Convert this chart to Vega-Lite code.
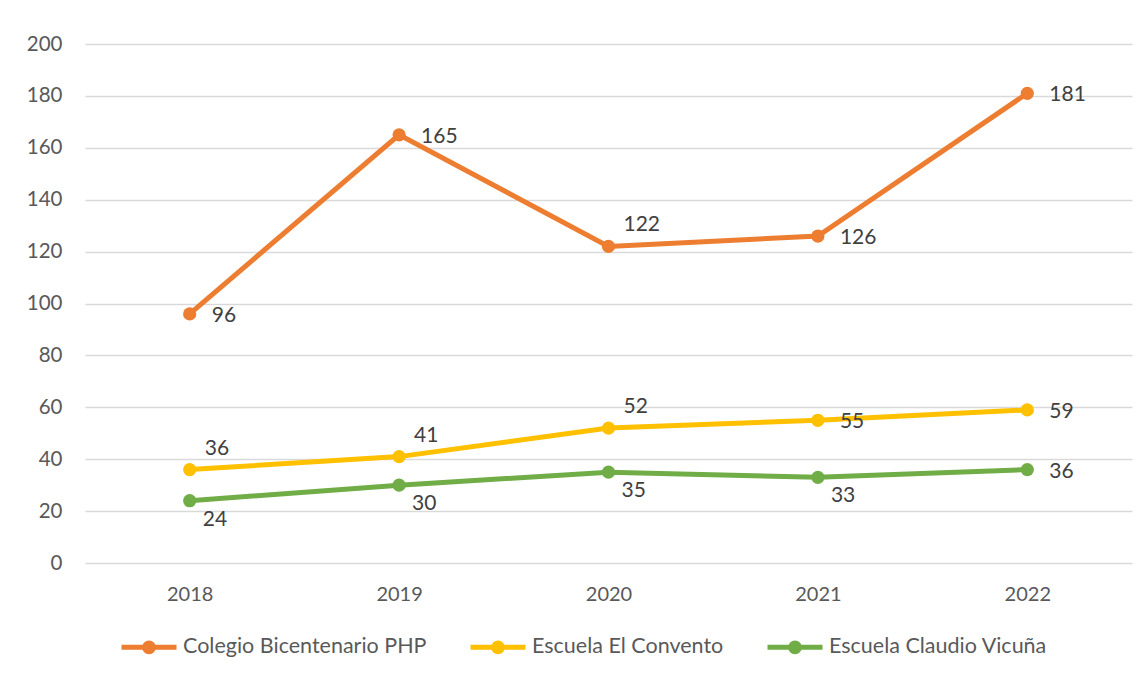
{
  "$schema": "https://vega.github.io/schema/vega-lite/v6.json",
  "width": 1047,
  "height": 519,
  "autosize": "none",
  "padding": {"left": 85, "top": 44, "right": 15, "bottom": 114},
  "background": "white",
  "config": {
    "view": {"stroke": null},
    "font": "Lato"
  },
  "data": {
    "values": [
      {"year": "2018", "school": "Colegio Bicentenario PHP", "value": 96},
      {"year": "2019", "school": "Colegio Bicentenario PHP", "value": 165},
      {"year": "2020", "school": "Colegio Bicentenario PHP", "value": 122},
      {"year": "2021", "school": "Colegio Bicentenario PHP", "value": 126},
      {"year": "2022", "school": "Colegio Bicentenario PHP", "value": 181},
      {"year": "2018", "school": "Escuela El Convento", "value": 36},
      {"year": "2019", "school": "Escuela El Convento", "value": 41},
      {"year": "2020", "school": "Escuela El Convento", "value": 52},
      {"year": "2021", "school": "Escuela El Convento", "value": 55},
      {"year": "2022", "school": "Escuela El Convento", "value": 59},
      {"year": "2018", "school": "Escuela Claudio Vicuña", "value": 24},
      {"year": "2019", "school": "Escuela Claudio Vicuña", "value": 30},
      {"year": "2020", "school": "Escuela Claudio Vicuña", "value": 35},
      {"year": "2021", "school": "Escuela Claudio Vicuña", "value": 33},
      {"year": "2022", "school": "Escuela Claudio Vicuña", "value": 36}
    ]
  },
  "encoding": {
    "x": {
      "field": "year", "type": "ordinal",
      "scale": {"type": "point", "padding": 0.5},
      "axis": {
        "title": null, "labelAngle": 0, "domain": false, "ticks": false, "tickSize": 0, "grid": false,
        "labelFont": "Lato", "labelFontSize": 20, "labelColor": "#595959", "labelPadding": 21
      }
    },
    "y": {
      "field": "value", "type": "quantitative",
      "scale": {"domain": [0, 200], "nice": false},
      "axis": {
        "title": null, "values": [0, 20, 40, 60, 80, 100, 120, 140, 160, 180, 200],
        "domain": false, "ticks": false, "tickSize": 0,
        "grid": true, "gridColor": "#D9D9D9", "gridWidth": 1.3,
        "labelFont": "Lato", "labelFontSize": 20.5, "labelColor": "#595959", "labelPadding": 23
      }
    }
  },
  "layer": [
    {
      "mark": {"type": "line", "strokeWidth": 5, "point": {"filled": true, "size": 175}},
      "encoding": {
        "color": {
          "field": "school", "type": "nominal",
          "sort": ["Colegio Bicentenario PHP", "Escuela El Convento", "Escuela Claudio Vicuña"],
          "scale": {
            "domain": ["Colegio Bicentenario PHP", "Escuela El Convento", "Escuela Claudio Vicuña"],
            "range": ["#ED7D31", "#FFC000", "#70AD47"]
          },
          "legend": {
            "title": null, "orient": "none", "direction": "horizontal",
            "legendX": 34, "legendY": 573,
            "symbolType": "M-1,0L1,0M0.16,0A0.16,0.16 0 1,1 -0.16,0A0.16,0.16 0 1,1 0.16,0",
            "symbolSize": 3025, "symbolStrokeWidth": 5,
            "labelFont": "Lato", "labelFontSize": 21.5, "labelColor": "#595959",
            "labelOffset": 4, "columnPadding": 33, "labelLimit": 400,
            "encode": {
              "symbols": {"update": {
                "fill": {"scale": "color", "field": "value"},
                "stroke": {"scale": "color", "field": "value"},
                "opacity": {"value": 1}
              }}
            }
          }
        }
      }
    },
    {
      "transform": [{"filter": "(datum.school == 'Colegio Bicentenario PHP' && datum.year != '2020') || (datum.school == 'Escuela El Convento' && (datum.year == '2021' || datum.year == '2022')) || (datum.school == 'Escuela Claudio Vicuña' && datum.year == '2022')"}],
      "mark": {"type": "text", "align": "left", "baseline": "middle", "dx": 22, "dy": 2, "font": "Lato", "fontSize": 21, "color": "#404040"},
      "encoding": {"text": {"field": "value", "type": "quantitative"}}
    },
    {
      "transform": [{"filter": "(datum.school == 'Colegio Bicentenario PHP' && datum.year == '2020') || (datum.school == 'Escuela El Convento' && datum.year != '2021' && datum.year != '2022')"}],
      "mark": {"type": "text", "align": "left", "baseline": "middle", "dx": 15, "dy": -21, "font": "Lato", "fontSize": 21, "color": "#404040"},
      "encoding": {"text": {"field": "value", "type": "quantitative"}}
    },
    {
      "transform": [{"filter": "datum.school == 'Escuela Claudio Vicuña' && datum.year != '2022'"}],
      "mark": {"type": "text", "align": "left", "baseline": "middle", "dx": 13, "dy": 19, "font": "Lato", "fontSize": 21, "color": "#404040"},
      "encoding": {"text": {"field": "value", "type": "quantitative"}}
    }
  ]
}
